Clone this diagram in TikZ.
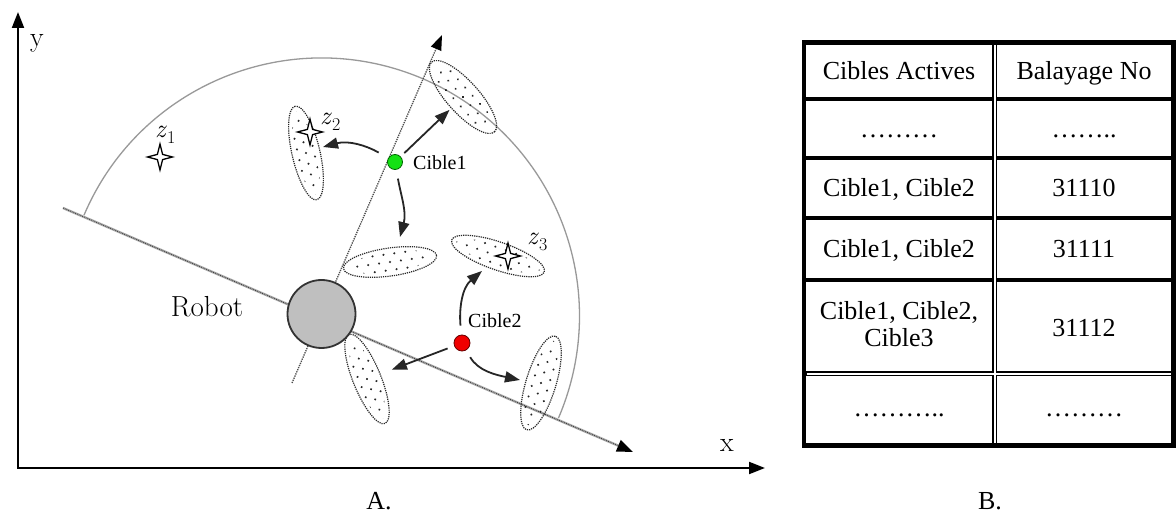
\documentclass[tikz,border=0pt]{standalone}
\usepackage{fontspec}
\newfontfamily\tnr{Liberation Serif}
\usetikzlibrary{arrows.meta,shapes.geometric,calc}
\definecolor{cgreen}{RGB}{20,225,20}
\definecolor{cred}{RGB}{240,0,0}
\newcommand\elldots[5]{%
  \begin{scope}[shift={(#1,#2)},rotate=#3]
    \clip (0,0) ellipse [x radius=#4-5, y radius=#5-4];
    \foreach \i in {-6,...,6}{\foreach \j in {-2,...,2}{%
      \fill[black!85] ({\i*11+5.5*abs(mod(\j,2))},{\j*8}) circle[radius=1.15];}}
  \end{scope}}
\newcommand\sparkle[2]{%
  \draw[fill=white,line width=1.3pt,line join=miter] (#1,#2) +(12.5,0) -- +(2.6,2.6) -- +(0,13) -- +(-2.6,2.6) -- +(-12.5,0) -- +(-2.6,-2.6) -- +(0,-13) -- +(2.6,-2.6) -- cycle;}
\begin{document}
\begin{tikzpicture}[x=1pt,y=1pt,
  tip/.style={-{Triangle[length=15pt,width=11pt]}},
  conn/.style={line width=1.8pt,draw=black!85,tip},
  dell/.style={ellipse,draw=black!85,densely dotted,line width=1.2pt,inner sep=0pt},
  tbl/.style={font=\tnr\fontsize{26}{30}\selectfont,anchor=base,inner sep=0pt},
  lbl/.style={font=\tnr\fontsize{20}{24}\selectfont,anchor=base west,inner sep=0pt},
  lm/.style={font=\fontsize{28}{32}\selectfont,anchor=base,inner sep=0pt},
  zl/.style={font=\fontsize{26}{30}\selectfont\itshape,anchor=base west,inner sep=0pt},
  hline/.style={line width=4pt}]
\useasboundingbox (0,0) rectangle (1176,-518);
\fill[white] (0,0) rectangle (1176,-518);

% axes
\coordinate (O) at (18,-468);
\coordinate (Ytip) at (18,-12);
\coordinate (Xtip) at (765,-468);
\draw[line width=2pt,line join=miter,{Triangle[length=16pt,width=12pt]}-{Triangle[length=16pt,width=12pt]}] (Ytip) -- (O) -- (Xtip);
\node[lm] (ylab) at (37,-47) {y};
\node[lm] (xlab) at (727,-452) {x};

% sweep arc
\coordinate (RC) at (321.5,-316);
\draw[gray!80,line width=1.3pt] ([shift={(157:258)}]RC) arc[start angle=157,end angle=-23.3,radius=258];

% base line of robot
\coordinate (BL) at (63,-208);
\coordinate (BR) at (633,-452);
\draw[gray!65,line width=2.4pt,-{Triangle[length=16pt,width=12pt,color=black]}] (BL) -- (BR);
\draw[black!75,densely dotted,line width=0.9pt,shorten >=14pt] (BL) -- (BR);

% perpendicular line
\coordinate (PB) at (292,-383);
\coordinate (PT) at (442,-35);
\draw[black!70,densely dotted,line width=1.3pt,-{Triangle[length=15pt,width=11pt,color=black]}] (PB) -- (PT);

% ellipses
\node[dell,minimum width=94pt,minimum height=32pt,rotate=-48] (e1) at (463,-97) {};
\elldots{463}{-97}{-48}{47}{16}
\node[dell,minimum width=96pt,minimum height=28pt,rotate=103] (e2) at (306,-153) {};
\elldots{306}{-153}{103}{48}{14}
\node[dell,minimum width=94pt,minimum height=28pt,rotate=8] (e3) at (390,-262) {};
\elldots{390}{-262}{8}{47}{14}
\node[dell,minimum width=98pt,minimum height=28pt,rotate=-19] (e4) at (498,-256) {};
\elldots{498}{-256}{-19}{49}{14}
\node[dell,minimum width=96pt,minimum height=28pt,rotate=112] (e5) at (367,-379) {};
\elldots{367}{-379}{112}{48}{14}
\node[dell,minimum width=98pt,minimum height=30pt,rotate=73] (e6) at (541,-383) {};
\elldots{541}{-383}{73}{49}{15}

% robot
\node[circle,minimum size=68pt,inner sep=0pt,fill=black!25,draw=black!80,line width=1.8pt] (robot) at (321.5,-314) {};
\node[lm,font=\fontsize{29}{33}\selectfont] (rlab) at (207,-317) {Robot};

% stars and labels
\sparkle{160}{-157}
\sparkle{310}{-132}
\sparkle{508}{-256}
\node[zl] (z1) at (155,-138) {z\kern1.5pt\raisebox{-6pt}{\upshape\fontsize{18}{18}\selectfont 1}};
\node[zl] (z2) at (320,-125) {z\kern1.5pt\raisebox{-6pt}{\upshape\fontsize{18}{18}\selectfont 2}};
\node[zl] (z3) at (527,-245) {z\kern1.5pt\raisebox{-6pt}{\upshape\fontsize{18}{18}\selectfont 3}};

% targets
\node[circle,minimum size=15pt,inner sep=0pt,fill=cgreen,draw=black!60!green,line width=0.8pt] (c1) at (395,-162) {};
\node[circle,minimum size=16pt,inner sep=0pt,fill=cred,draw=black!60!red,line width=0.8pt] (c2) at (462,-343) {};
\node[lbl] (l1) at (413,-170) {Cible1};
\node[lbl] (l2) at (468,-328) {Cible2};

% arrows
\coordinate (t2) at (323,-147);
\coordinate (t3) at (400,-237);
\coordinate (t4) at (482,-271);
\coordinate (t6) at (520,-380);
\draw[conn,shorten <=5pt,shorten >=2pt] (c1) -- (e1);
\draw[conn,shorten <=11pt] (c1) to[out=150,in=15] (t2);
\draw[conn,shorten <=9pt] (c1) to[out=-80,in=75] (t3);
\draw[conn,shorten <=9pt] (c2) to[out=95,in=220] (t4);
\draw[conn,shorten <=7pt,shorten >=12pt] (c2) -- (e5);
\draw[conn,shorten <=8pt] (c2) to[out=-60,in=168] (t6);

% table
\draw[line width=4.5pt] (804,-42.5) rectangle (1173.5,-445.5);
\foreach \yy in {99,158.5,218,280}{\draw[hline] (804,-\yy) -- (1173.5,-\yy);}
\draw[line width=5pt] (804,-373.8) -- (1173.5,-373.8);
\draw[line width=5pt] (994.8,-42.5) -- (994.8,-445.5);
\draw[white,line width=1.6pt] (806.5,-373.8) -- (1171,-373.8);
\draw[white,line width=1.6pt] (994.8,-45) -- (994.8,-443);

\node[tbl] (h1) at (899,-80) {Cibles Actives};
\node[tbl] (h2) at (1084,-80) {Balayage No};
\node[tbl] (r2a) at (899,-138) {………};
\node[tbl] (r2b) at (1084,-138) {……..};
\node[tbl] (r3a) at (899,-197) {Cible1, Cible2};
\node[tbl] (r3b) at (1084,-197) {31110};
\node[tbl] (r4a) at (899,-258) {Cible1, Cible2};
\node[tbl] (r4b) at (1084,-258) {31111};
\node[tbl] (r5a) at (899,-320) {Cible1, Cible2,};
\node[tbl] (r5c) at (899,-347) {Cible3};
\node[tbl] (r5b) at (1084,-337) {31112};
\node[tbl] (r6a) at (899,-417) {………..};
\node[tbl] (r6b) at (1084,-417) {………};

\node[tbl] (la) at (379,-510) {A.};
\node[tbl] (lb) at (990,-510) {B.};
\end{tikzpicture}
\end{document}
